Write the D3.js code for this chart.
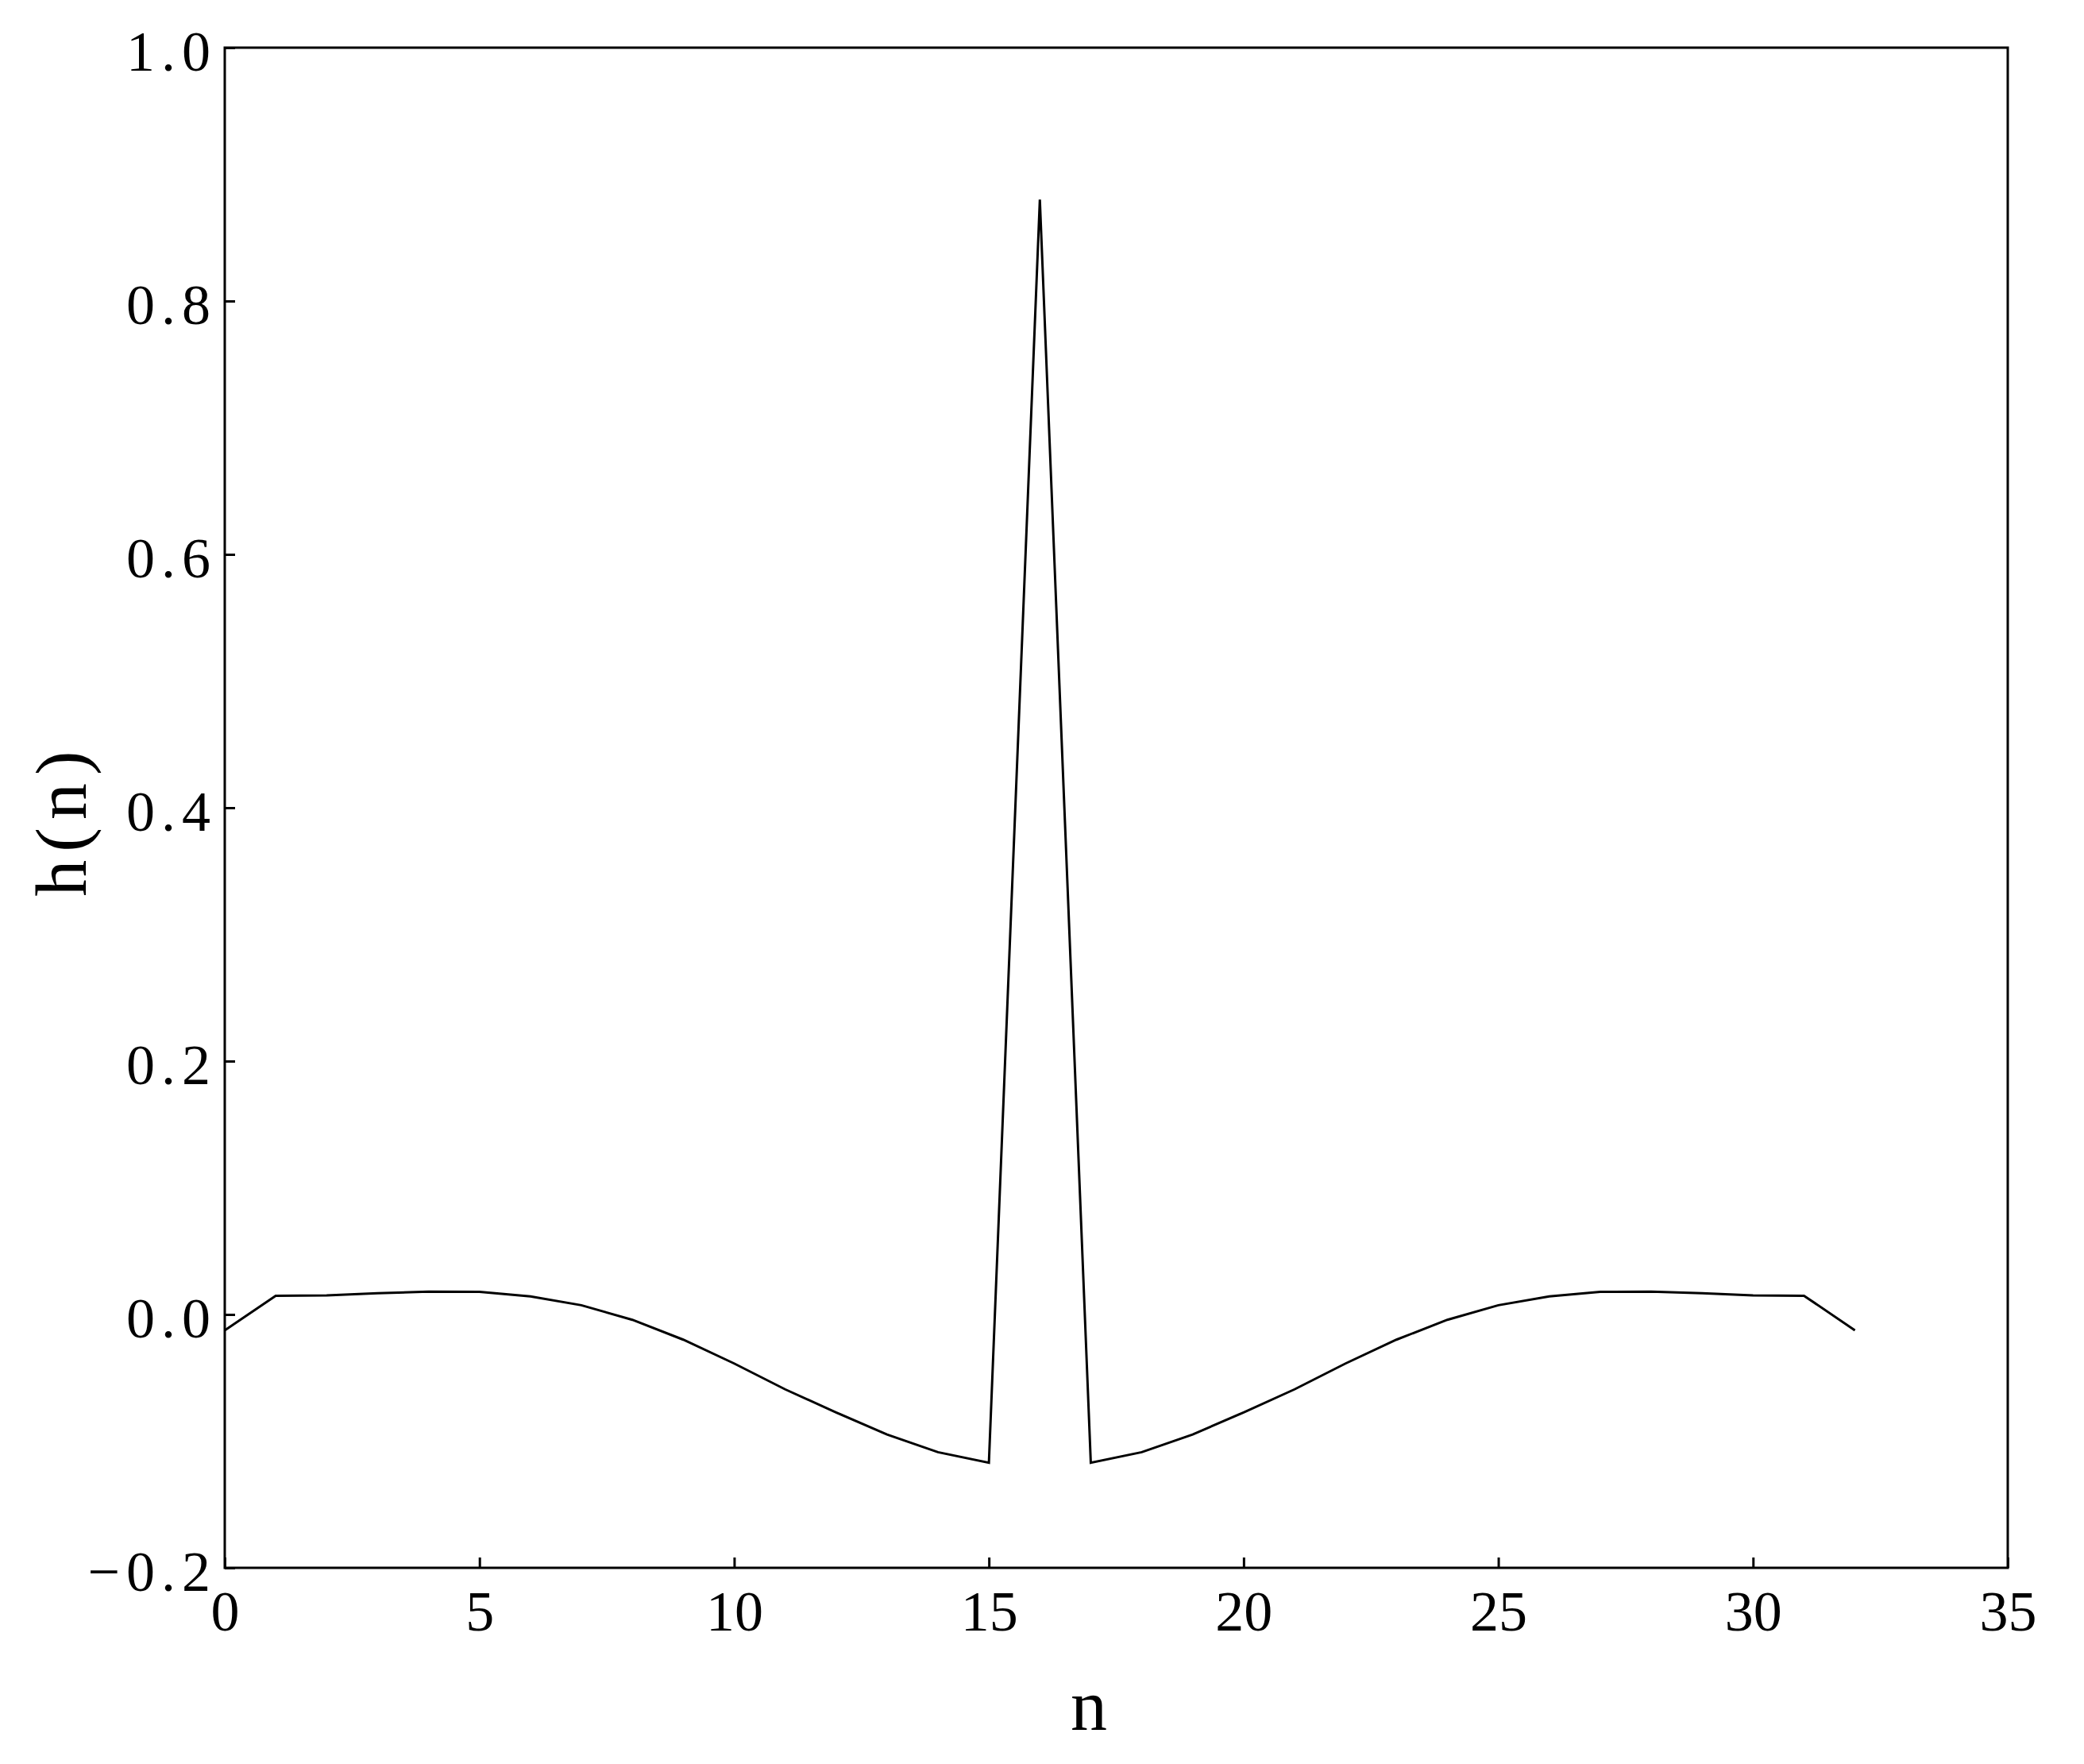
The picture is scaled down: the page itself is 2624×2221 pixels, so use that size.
<!DOCTYPE html>
<html>
<head>
<meta charset="utf-8">
<script src="https://cdn.jsdelivr.net/npm/d3@7"></script>
<style>
  body { margin: 0; background: #fff; }
  text { font-family: "Liberation Serif", "DejaVu Serif", serif; fill: #000; }
</style>
</head>
<body>
<script>
var width = 2624;
var height = 2221;

// the plot box
var margin = {top: 60, right: 96, bottom: 247, left: 283};

// impulse response h(n), n = 0..32
var n = d3.range(0, 33);
var h = [-0.0125, 0.0148, 0.0150, 0.0167, 0.0180, 0.0178, 0.0142, 0.0073,
         -0.0042, -0.0199, -0.0387, -0.0591, -0.0773, -0.0947, -0.1087, -0.1170,
          0.8800,
         -0.1170, -0.1087, -0.0947, -0.0773, -0.0591, -0.0387, -0.0199, -0.0042,
          0.0073, 0.0142, 0.0178, 0.0180, 0.0167, 0.0150, 0.0148, -0.0125];

var xTicks = [0, 5, 10, 15, 20, 25, 30, 35];
var yTicks = [-0.2, 0.0, 0.2, 0.4, 0.6, 0.8, 1.0];

var svg = d3.select('body').append('svg')
            .attr('width', width)
            .attr('height', height);

var iw = width - margin.left - margin.right;
var ih = height - margin.top - margin.bottom;

var g = svg.append('g')
           .attr('transform', 'translate(' + margin.left + ',' + margin.top + ')');

var x = d3.scaleLinear().domain([0, 35]).range([0, iw]);
var y = d3.scaleLinear().domain([-0.2, 1.0]).range([ih, 0]);

// ticks point inward, only on left and bottom
var xAxis = d3.axisBottom(x)
              .tickValues(xTicks)
              .tickFormat(d3.format('d'))
              .tickSizeInner(-13)
              .tickSizeOuter(0)
              .tickPadding(28);

var yAxis = d3.axisLeft(y)
              .tickValues(yTicks)
              .tickFormat(function(d) { return d3.format('.1f')(d).replace('-', '\u2212'); })
              .tickSizeInner(-13)
              .tickSizeOuter(0)
              .tickPadding(10);

var gx = g.append('g')
          .attr('transform', 'translate(0,' + ih + ')')
          .call(xAxis);

var gy = g.append('g').call(yAxis);

[gx, gy].forEach(function(a) {
  a.select('.domain').remove();
  a.selectAll('line').attr('stroke', '#000').attr('stroke-width', 3);
  a.selectAll('text')
    .style('font-size', '72px')
    .style('font-family', '"Liberation Serif", serif');
});
gy.selectAll('text')
  .attr('dy', '0.4em')
  .style('letter-spacing', '8px');

// the data line
var line = d3.line()
             .x(function(d, i) { return x(n[i]); })
             .y(function(d) { return y(d); });

g.append('path')
  .datum(h)
  .attr('fill', 'none')
  .attr('stroke', '#000')
  .attr('stroke-width', 3)
  .attr('stroke-linejoin', 'miter')
  .attr('d', line);

// frame
g.append('rect')
  .attr('x', 0)
  .attr('y', 0)
  .attr('width', iw)
  .attr('height', ih)
  .attr('fill', 'none')
  .attr('stroke', '#000')
  .attr('stroke-width', 3);

// axis labels
svg.append('text')
  .attr('x', 1371)
  .attr('y', 2178)
  .attr('text-anchor', 'middle')
  .style('font-size', '92px')
  .text('n');

svg.append('text')
  .attr('transform', 'translate(108,1032) rotate(-90)')
  .attr('text-anchor', 'middle')
  .style('font-size', '92px')
  .style('letter-spacing', '10px')
  .text('h(n)');
</script>
</body>
</html>
